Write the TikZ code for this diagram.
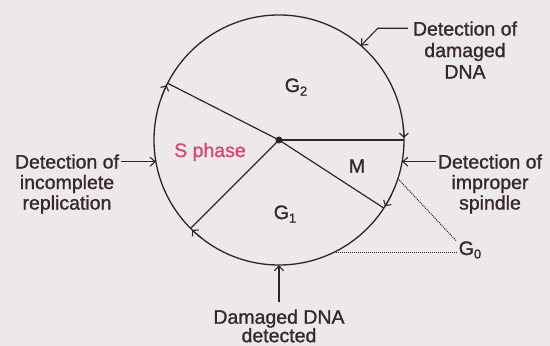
\documentclass[tikz,border=0pt]{standalone}
\usepackage{fontspec}
\setmainfont{Liberation Sans}[FakeBold=1.2]
\usetikzlibrary{arrows.meta,calc}
\definecolor{bg}{RGB}{237,232,235}
\definecolor{ink}{RGB}{45,38,40}
\definecolor{txt}{RGB}{55,40,42}
\definecolor{spink}{RGB}{214,72,118}
\newcommand\subs[1]{\raisebox{-3.5pt}{\fontsize{13}{13}\selectfont #1}}
\begin{document}
\begin{tikzpicture}[x=1pt,y=1pt,
  lbl/.style={font=\fontsize{19.5}{20.5}\selectfont, text=txt, align=center, inner sep=0pt},
  ptr/.style={draw=ink, line width=1.1pt, -{Straight Barb[length=5pt,width=9pt]}},
  spoke/.style={draw=ink, line width=1.2pt},
  cw/.style={draw=ink, line width=1.1pt, -{Straight Barb[length=4pt,width=9pt]}},
  dots/.style={draw=ink, line width=1pt, densely dotted},
]
\fill[bg] (0,0) rectangle (550,346);
\useasboundingbox (0,0) rectangle (550,346);
\node[circle, draw=ink, line width=1.3pt, minimum size=250pt, inner sep=0pt, outer sep=0pt] (cyc) at (279,206) {};
\fill[ink] (cyc.center) circle (3.5pt);
\foreach \a in {153,0,-33,225} {
  \draw[spoke] (cyc.center) -- (cyc.\a);
  \draw[cw] ($(cyc.center)+({\a+7}:125)$) arc[start angle={\a+7}, end angle={\a+1}, radius=125];
}
% phase labels
\node[lbl] (g2) at (296,259) {G\subs{2}};
\node[lbl, text=spink] (sph) at (210,194) {S phase};
\node[lbl] (mph) at (357,180) {M};
\node[lbl] (g1) at (285,132) {G\subs{1}};
% checkpoints
\node[lbl, font=\fontsize{19.5}{21.5}\selectfont] (tr) at (465,296) {Detection of\\damaged\\DNA};
\draw[ptr] ([xshift=-5pt,yshift=-7pt]tr.north west) -- ++(-30,0) -- (cyc.49);
\node[lbl] (lt) at (67,162) {Detection of\\incomplete\\replication};
\draw[ptr] ([xshift=2pt]lt.east |- cyc.190) -- (cyc.190);
\node[lbl] (rt) at (490,162) {Detection of\\improper\\spindle};
\draw[ptr] ([xshift=-2pt]rt.west |- cyc.-10) -- (cyc.-10);
\node[lbl, font=\fontsize{19.5}{18.5}\selectfont] (bt) at (279,20) {Damaged DNA\\detected};
\draw[ptr] ([yshift=7pt]bt.north) -- (cyc.270);
% G0
\node[lbl] (g0) at (470,96) {G\subs{0}};
\draw[dots] (cyc.-64) -- ([xshift=-2pt]cyc.-64 -| g0.west);
\draw[dots] (cyc.-18) -- ([xshift=-2pt]g0.north west);
\end{tikzpicture}
\end{document}
